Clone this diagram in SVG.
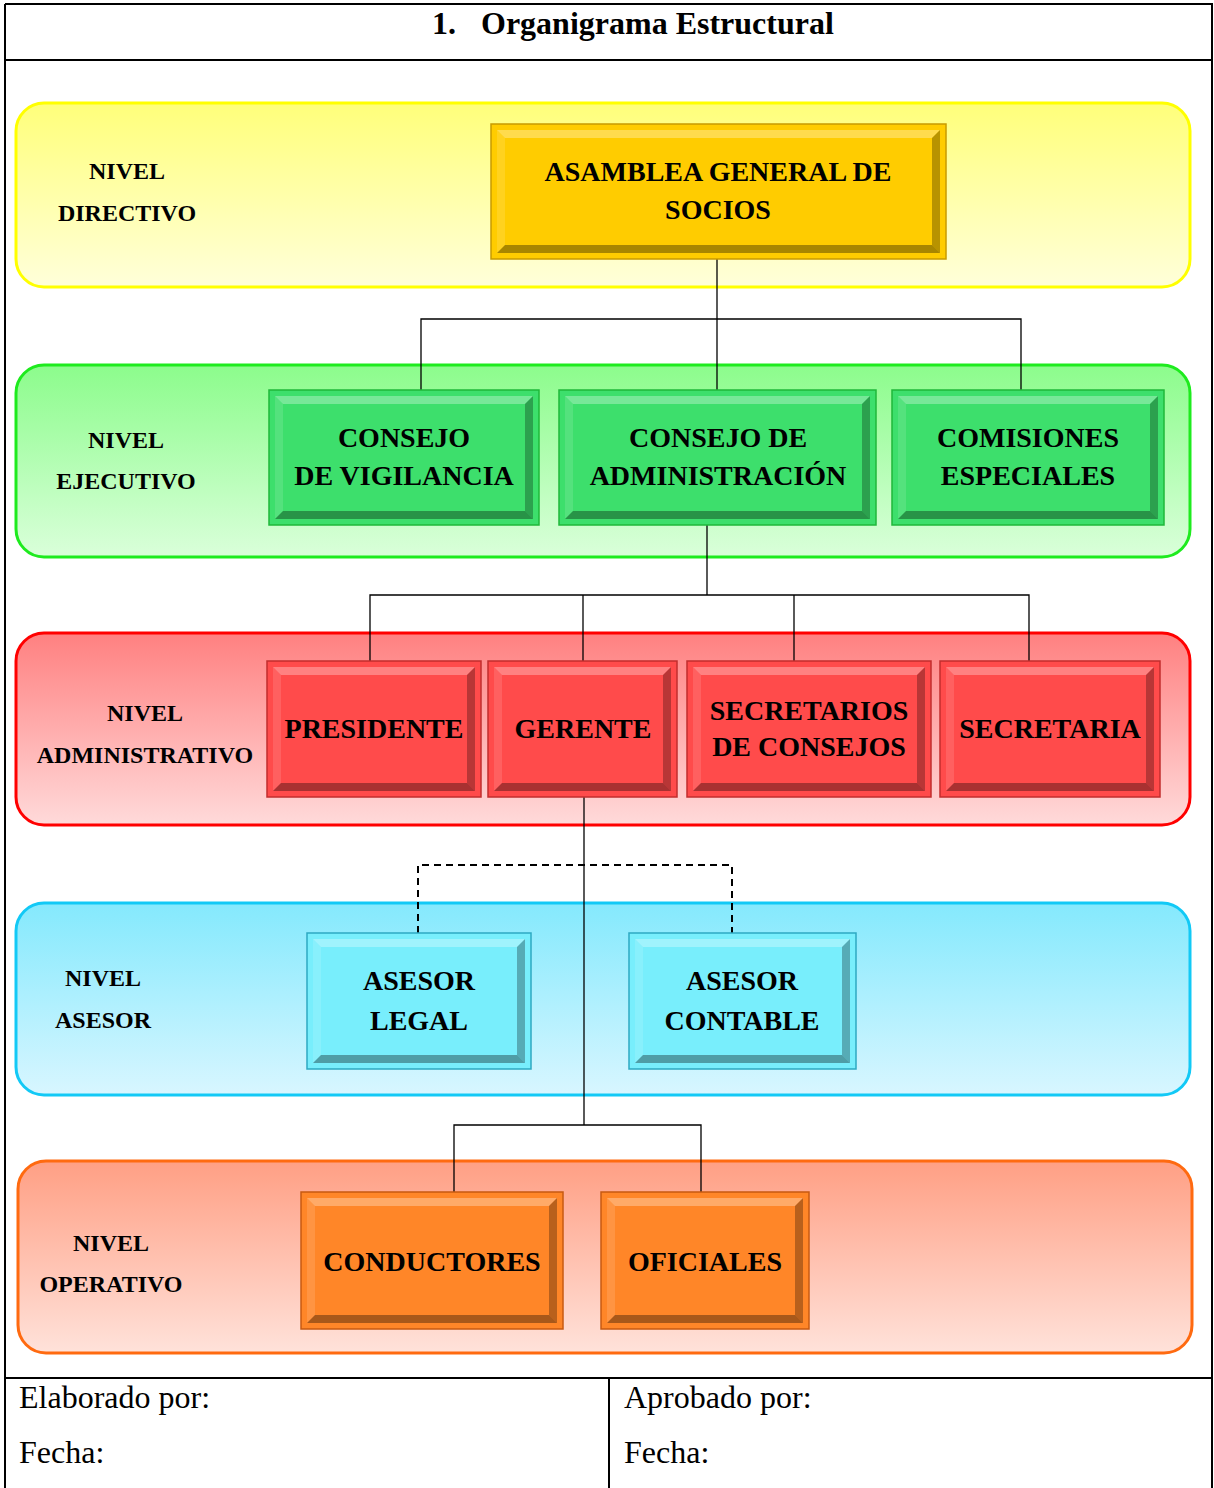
<svg xmlns="http://www.w3.org/2000/svg" width="1214" height="1488" viewBox="0 0 1214 1488">
  <defs>
    <linearGradient id="gYellow" x1="0" y1="0" x2="0" y2="1">
      <stop offset="0" stop-color="#FFFF7A"/>
      <stop offset="1" stop-color="#FFFFDA"/>
    </linearGradient>
    <linearGradient id="gGreen" x1="0" y1="0" x2="0" y2="1">
      <stop offset="0" stop-color="#8CFC8C"/>
      <stop offset="1" stop-color="#DAFFDA"/>
    </linearGradient>
    <linearGradient id="gRed" x1="0" y1="0" x2="0" y2="1">
      <stop offset="0" stop-color="#FF8080"/>
      <stop offset="1" stop-color="#FFDADA"/>
    </linearGradient>
    <linearGradient id="gBlue" x1="0" y1="0" x2="0" y2="1">
      <stop offset="0" stop-color="#84E9FD"/>
      <stop offset="1" stop-color="#D8F6FF"/>
    </linearGradient>
    <linearGradient id="gOrange" x1="0" y1="0" x2="0" y2="1">
      <stop offset="0" stop-color="#FF9F84"/>
      <stop offset="1" stop-color="#FFE2DA"/>
    </linearGradient>
  </defs>
  <style>
    .frame { fill: none; stroke: #000; stroke-width: 2; }
    .title { font-family: "Liberation Serif", "Times New Roman", serif; font-weight: bold; font-size: 32px; fill: #000; }
    .foot { font-family: "Liberation Serif", "Times New Roman", serif; font-size: 32px; fill: #000; }
    .band { stroke-width: 3; }
    .lvl { font-family: "Liberation Serif", "Times New Roman", serif; font-weight: bold; font-size: 24px; fill: #000; text-anchor: middle; }
    .lbl { font-family: "Liberation Serif", "Times New Roman", serif; font-weight: bold; font-size: 28px; fill: #000; text-anchor: middle; }
    .hi { fill: #fff; fill-opacity: 0.3; }
    .hl { fill: #fff; fill-opacity: 0.12; }
    .sr { fill: #000; fill-opacity: 0.28; }
    .sb { fill: #000; fill-opacity: 0.34; }
    .yel { fill: #FFCC00; stroke: #C89B00; stroke-width: 1.5; }
    .grn { fill: #3DDF6C; stroke: #1FB83A; stroke-width: 1.5; }
    .red { fill: #FF4B4B; stroke: #C22E2E; stroke-width: 1.5; }
    .cyn { fill: #78EEFC; stroke: #2EA9C2; stroke-width: 1.5; }
    .org { fill: #FF8628; stroke: #C85A10; stroke-width: 1.5; }
    .ln { fill: none; stroke: #000; stroke-width: 1.3; }
    .dash { fill: none; stroke: #000; stroke-width: 2; stroke-dasharray: 7 5; }
  </style>

  <rect width="1214" height="1488" fill="#fff"/>

  <!-- form frame -->
  <g id="frame">
    <line class="frame" x1="5" y1="4" x2="1213" y2="4"/>
    <line class="frame" x1="5" y1="4" x2="5" y2="1488"/>
    <line class="frame" x1="1212" y1="4" x2="1212" y2="1488"/>
    <line class="frame" x1="5" y1="60" x2="1213" y2="60"/>
    <line class="frame" x1="5" y1="1378" x2="1213" y2="1378"/>
    <line class="frame" x1="609" y1="1378" x2="609" y2="1488"/>
    <text class="title" x="432" y="34">1.</text>
    <text class="title" x="481" y="34">Organigrama Estructural</text>
    <text class="foot" x="19" y="1408">Elaborado por:</text>
    <text class="foot" x="19" y="1463">Fecha:</text>
    <text class="foot" x="624" y="1408">Aprobado por:</text>
    <text class="foot" x="624" y="1463">Fecha:</text>
  </g>

  <!-- level bands -->
  <g id="level-directivo">
    <rect class="band" x="16" y="103" width="1174" height="184" rx="28" fill="url(#gYellow)" stroke="#FFFF00"/>
    <text class="lvl" x="127" y="179">NIVEL</text>
    <text class="lvl" x="127" y="221">DIRECTIVO</text>
  </g>
  <g id="level-ejecutivo">
    <rect class="band" x="16" y="365" width="1174" height="192" rx="28" fill="url(#gGreen)" stroke="#1EEB1E"/>
    <text class="lvl" x="126" y="448">NIVEL</text>
    <text class="lvl" x="126" y="489">EJECUTIVO</text>
  </g>
  <g id="level-administrativo">
    <rect class="band" x="16" y="633" width="1174" height="192" rx="28" fill="url(#gRed)" stroke="#FF0000"/>
    <text class="lvl" x="145" y="721">NIVEL</text>
    <text class="lvl" x="145" y="763">ADMINISTRATIVO</text>
  </g>
  <g id="level-asesor">
    <rect class="band" x="16" y="903" width="1174" height="192" rx="28" fill="url(#gBlue)" stroke="#12C9F6"/>
    <text class="lvl" x="103" y="986">NIVEL</text>
    <text class="lvl" x="103" y="1028">ASESOR</text>
  </g>
  <g id="level-operativo">
    <rect class="band" x="18" y="1161" width="1174" height="192" rx="28" fill="url(#gOrange)" stroke="#FF6A10"/>
    <text class="lvl" x="111" y="1251">NIVEL</text>
    <text class="lvl" x="111" y="1292">OPERATIVO</text>
  </g>

  <!-- connectors -->
  <g id="connectors">
    <line class="ln" x1="717" y1="259" x2="717" y2="390"/>
    <polyline class="ln" points="421,390 421,319 1021,319 1021,390"/>
    <line class="ln" x1="707" y1="525" x2="707" y2="595"/>
    <polyline class="ln" points="370,661 370,595 1029,595 1029,661"/>
    <line class="ln" x1="583" y1="595" x2="583" y2="661"/>
    <line class="ln" x1="794" y1="595" x2="794" y2="661"/>
    <line class="ln" x1="584" y1="797" x2="584" y2="1125"/>
    <polyline class="dash" points="418,933 418,865 732,865 732,933"/>
    <polyline class="ln" points="454,1192 454,1125 701,1125 701,1192"/>
  </g>

  <!-- nodes -->
  <g id="asamblea">
    <rect class="yel" x="491" y="124" width="455" height="135"/>
    <polygon class="hi" points="497,130 940,130 932,138 505,138"/>
    <polygon class="hl" points="497,130 505,138 505,245 497,253"/>
    <polygon class="sr" points="940,130 940,253 932,245 932,138"/>
    <polygon class="sb" points="497,253 505,245 932,245 940,253"/>
    <text class="lbl" x="718" y="181">ASAMBLEA GENERAL DE</text>
    <text class="lbl" x="718" y="219">SOCIOS</text>
  </g>

  <g id="consejo-vigilancia">
    <rect class="grn" x="269" y="390" width="270" height="135"/>
    <polygon class="hi" points="275,396 533,396 525,404 283,404"/>
    <polygon class="hl" points="275,396 283,404 283,511 275,519"/>
    <polygon class="sr" points="533,396 533,519 525,511 525,404"/>
    <polygon class="sb" points="275,519 283,511 525,511 533,519"/>
    <text class="lbl" x="404" y="447">CONSEJO</text>
    <text class="lbl" x="404" y="485">DE VIGILANCIA</text>
  </g>

  <g id="consejo-administracion">
    <rect class="grn" x="559" y="390" width="317" height="135"/>
    <polygon class="hi" points="565,396 870,396 862,404 573,404"/>
    <polygon class="hl" points="565,396 573,404 573,511 565,519"/>
    <polygon class="sr" points="870,396 870,519 862,511 862,404"/>
    <polygon class="sb" points="565,519 573,511 862,511 870,519"/>
    <text class="lbl" x="718" y="447">CONSEJO DE</text>
    <text class="lbl" x="718" y="485">ADMINISTRACIÓN</text>
  </g>

  <g id="comisiones-especiales">
    <rect class="grn" x="892" y="390" width="272" height="135"/>
    <polygon class="hi" points="898,396 1158,396 1150,404 906,404"/>
    <polygon class="hl" points="898,396 906,404 906,511 898,519"/>
    <polygon class="sr" points="1158,396 1158,519 1150,511 1150,404"/>
    <polygon class="sb" points="898,519 906,511 1150,511 1158,519"/>
    <text class="lbl" x="1028" y="447">COMISIONES</text>
    <text class="lbl" x="1028" y="485">ESPECIALES</text>
  </g>

  <g id="presidente">
    <rect class="red" x="267" y="661" width="214" height="136"/>
    <polygon class="hi" points="273,667 475,667 467,675 281,675"/>
    <polygon class="hl" points="273,667 281,675 281,783 273,791"/>
    <polygon class="sr" points="475,667 475,791 467,783 467,675"/>
    <polygon class="sb" points="273,791 281,783 467,783 475,791"/>
    <text class="lbl" x="374" y="738">PRESIDENTE</text>
  </g>

  <g id="gerente">
    <rect class="red" x="488" y="661" width="189" height="136"/>
    <polygon class="hi" points="494,667 671,667 663,675 502,675"/>
    <polygon class="hl" points="494,667 502,675 502,783 494,791"/>
    <polygon class="sr" points="671,667 671,791 663,783 663,675"/>
    <polygon class="sb" points="494,791 502,783 663,783 671,791"/>
    <text class="lbl" x="583" y="738">GERENTE</text>
  </g>

  <g id="secretarios-consejos">
    <rect class="red" x="687" y="661" width="244" height="136"/>
    <polygon class="hi" points="693,667 925,667 917,675 701,675"/>
    <polygon class="hl" points="693,667 701,675 701,783 693,791"/>
    <polygon class="sr" points="925,667 925,791 917,783 917,675"/>
    <polygon class="sb" points="693,791 701,783 917,783 925,791"/>
    <text class="lbl" x="809" y="720">SECRETARIOS</text>
    <text class="lbl" x="809" y="756">DE CONSEJOS</text>
  </g>

  <g id="secretaria">
    <rect class="red" x="940" y="661" width="220" height="136"/>
    <polygon class="hi" points="946,667 1154,667 1146,675 954,675"/>
    <polygon class="hl" points="946,667 954,675 954,783 946,791"/>
    <polygon class="sr" points="1154,667 1154,791 1146,783 1146,675"/>
    <polygon class="sb" points="946,791 954,783 1146,783 1154,791"/>
    <text class="lbl" x="1050" y="738">SECRETARIA</text>
  </g>

  <g id="asesor-legal">
    <rect class="cyn" x="307" y="933" width="224" height="136"/>
    <polygon class="hi" points="313,939 525,939 517,947 321,947"/>
    <polygon class="hl" points="313,939 321,947 321,1055 313,1063"/>
    <polygon class="sr" points="525,939 525,1063 517,1055 517,947"/>
    <polygon class="sb" points="313,1063 321,1055 517,1055 525,1063"/>
    <text class="lbl" x="419" y="990">ASESOR</text>
    <text class="lbl" x="419" y="1030">LEGAL</text>
  </g>

  <g id="asesor-contable">
    <rect class="cyn" x="629" y="933" width="227" height="136"/>
    <polygon class="hi" points="635,939 850,939 842,947 643,947"/>
    <polygon class="hl" points="635,939 643,947 643,1055 635,1063"/>
    <polygon class="sr" points="850,939 850,1063 842,1055 842,947"/>
    <polygon class="sb" points="635,1063 643,1055 842,1055 850,1063"/>
    <text class="lbl" x="742" y="990">ASESOR</text>
    <text class="lbl" x="742" y="1030">CONTABLE</text>
  </g>

  <g id="conductores">
    <rect class="org" x="301" y="1192" width="262" height="137"/>
    <polygon class="hi" points="307,1198 557,1198 549,1206 315,1206"/>
    <polygon class="hl" points="307,1198 315,1206 315,1315 307,1323"/>
    <polygon class="sr" points="557,1198 557,1323 549,1315 549,1206"/>
    <polygon class="sb" points="307,1323 315,1315 549,1315 557,1323"/>
    <text class="lbl" x="432" y="1271">CONDUCTORES</text>
  </g>

  <g id="oficiales">
    <rect class="org" x="601" y="1192" width="208" height="137"/>
    <polygon class="hi" points="607,1198 803,1198 795,1206 615,1206"/>
    <polygon class="hl" points="607,1198 615,1206 615,1315 607,1323"/>
    <polygon class="sr" points="803,1198 803,1323 795,1315 795,1206"/>
    <polygon class="sb" points="607,1323 615,1315 795,1315 803,1323"/>
    <text class="lbl" x="705" y="1271">OFICIALES</text>
  </g>
</svg>
